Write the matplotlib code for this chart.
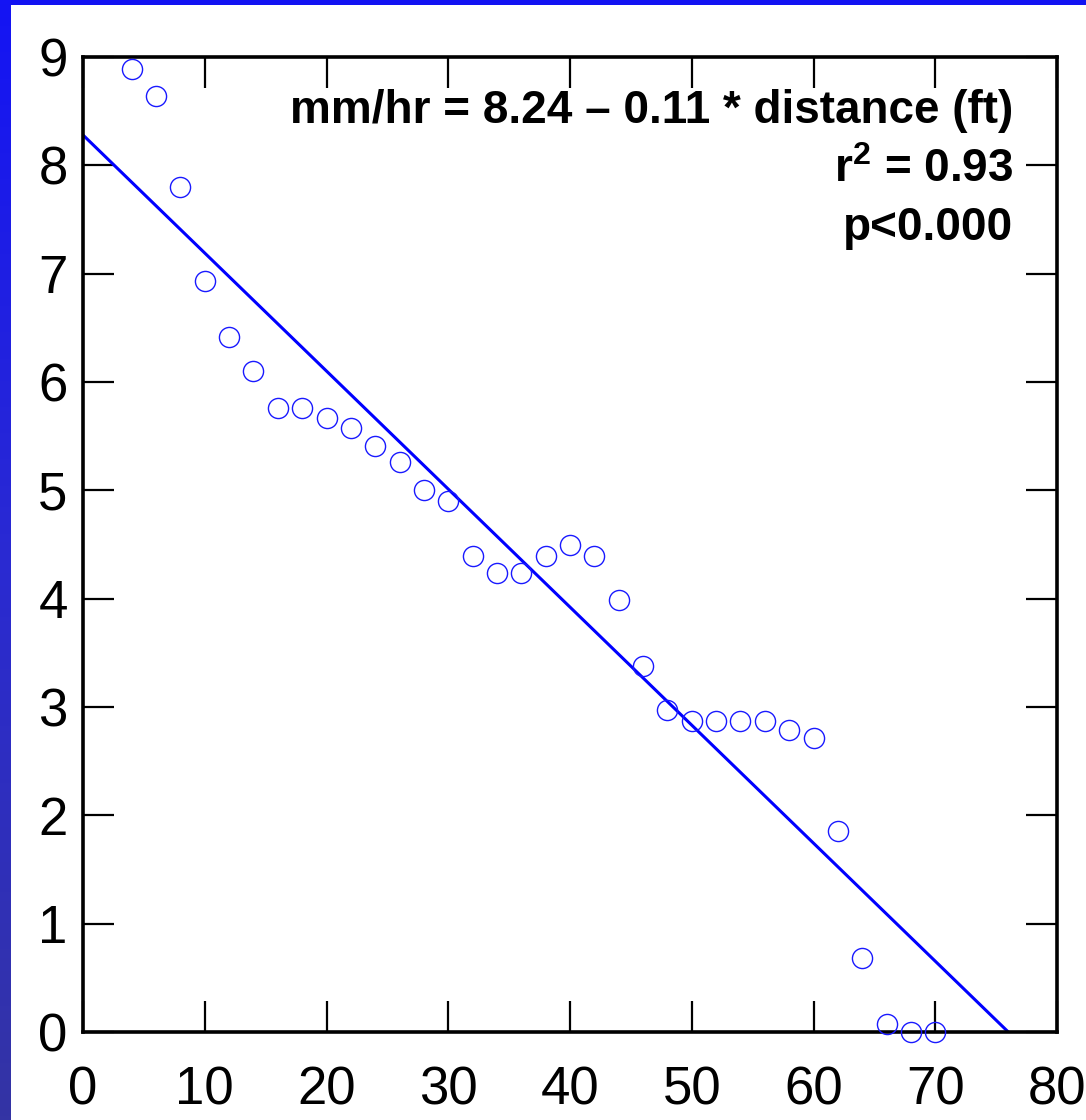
import numpy as np
import matplotlib
matplotlib.use("Agg")
import matplotlib.pyplot as plt
from matplotlib.colors import LinearSegmentedColormap

# ---- data ----
distance_ft = [4, 6, 8, 10, 12, 14, 16, 18, 20, 22, 24, 26, 28, 30, 32, 34,
               36, 38, 40, 42, 44, 46, 48, 50, 52, 54, 56, 58, 60, 62, 64,
               66, 68, 70]
rate_mm_hr = [8.89, 8.64, 7.80, 6.93, 6.42, 6.10, 5.76, 5.76, 5.67, 5.58,
              5.41, 5.26, 5.00, 4.90, 4.39, 4.24, 4.24, 4.39, 4.50, 4.39,
              3.99, 3.38, 2.97, 2.87, 2.87, 2.87, 2.87, 2.79, 2.71, 1.86,
              0.68, 0.07, 0.00, 0.00]
fit_x = [0, 76]
fit_y = [8.28, 0.0]
x_ticks = [0, 10, 20, 30, 40, 50, 60, 70, 80]
y_ticks = [0, 1, 2, 3, 4, 5, 6, 7, 8, 9]
annot_lines = ["mm/hr = 8.24 \u2013 0.11 * distance (ft)",
               "r$^{\\mathbf{2}}$ = 0.93",
               "p<0.000"]

plt.rcParams['font.family'] = ['Liberation Sans', 'DejaVu Sans']
plt.rcParams['mathtext.fontset'] = 'custom'
plt.rcParams['mathtext.bf'] = 'Liberation Sans:bold'
plt.rcParams['mathtext.rm'] = 'Liberation Sans'

W, H = 1086, 1120
fig = plt.figure(figsize=(W / 100, H / 100), dpi=100)
fig.patch.set_facecolor('white')

# blue frame: top band and left gradient band
top = fig.add_axes([0, 1 - 5 / H, 1, 5 / H])
top.set_axis_off()
top.add_patch(plt.Rectangle((0, 0), 1, 1, color='#1212F2', transform=top.transAxes))
left = fig.add_axes([0, 0, 11 / W, 1])
left.set_axis_off()
grad = np.linspace(0, 1, 256)[:, None]
cmap = LinearSegmentedColormap.from_list('g', ['#1414F4', '#2A2AD2', '#3434A4'])
left.imshow(grad, aspect='auto', cmap=cmap, extent=[0, 1, 0, 1], origin='upper')

ax = fig.add_axes([83 / W, 1 - 1032 / H, (1057 - 83) / W, (1032 - 57) / H])
ax.plot(fit_x, fit_y, color='#0000FF', lw=2.2, solid_capstyle='butt', zorder=2)
ax.plot(distance_ft, rate_mm_hr, linestyle='none', marker='o', ms=14.5,
        mfc='none', mec='#1a1aFF', mew=1.0, clip_on=False, zorder=3)

ax.set_xlim(0, 80)
ax.set_ylim(0, 9)
ax.set_xticks(x_ticks)
ax.set_yticks(y_ticks)
for s in ax.spines.values():
    s.set_linewidth(2.6)
ax.tick_params(axis='both', direction='in', length=22, width=1.6,
               labelsize=38, top=True, right=True)
ax.tick_params(axis='x', pad=24)
ax.tick_params(axis='y', pad=11)

x_r = (1013 - 83) / (1057 - 83)
baselines = [123, 182, 240]
for txt, b in zip(annot_lines, baselines):
    yf = (1032 - b) / (1032 - 57)
    ax.text(x_r, yf, txt, transform=ax.transAxes, ha='right', va='baseline',
            fontsize=33, fontweight='bold')

fig.savefig('out.png', dpi=100, facecolor='white')
